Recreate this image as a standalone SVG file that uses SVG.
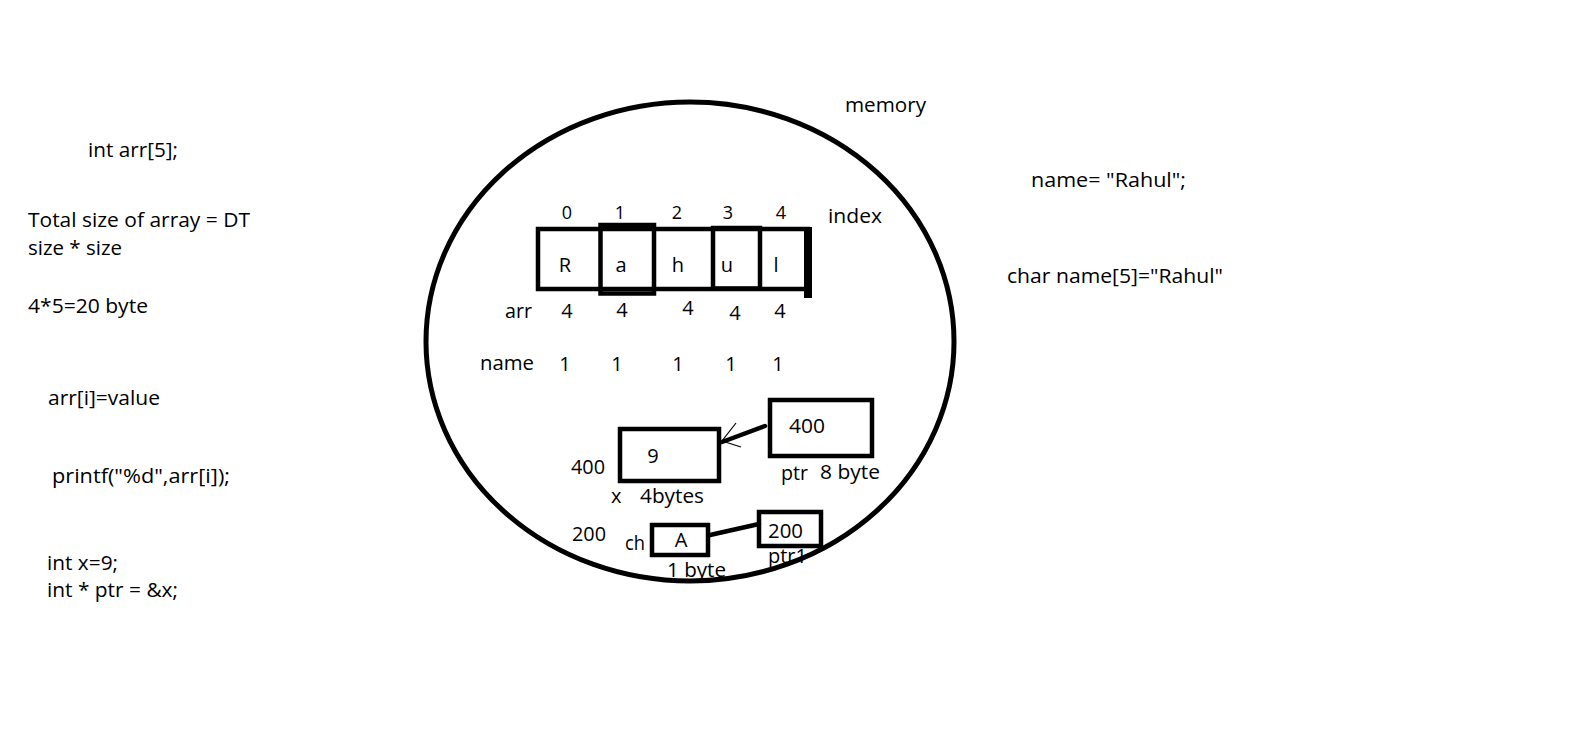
<svg xmlns="http://www.w3.org/2000/svg" width="1594" height="746" viewBox="0 0 1594 746">
<style>
text{font-family:"Open Sans",Lato,"Liberation Sans",sans-serif;font-size:20px;fill:#000}
.c{text-anchor:middle}
.s{font-size:18px}
.box{fill:none;stroke:#000;stroke-width:4.5}
.thin{fill:none;stroke:#000;stroke-width:1.2}
.con{fill:none;stroke:#000;stroke-width:4.5;stroke-linecap:round}
</style>
<rect width="1594" height="746" fill="#fff"/>
<g id="notes-left">
<text x="88" y="157" textLength="90" lengthAdjust="spacingAndGlyphs">int arr[5];</text>
<text x="28" y="227" textLength="222" lengthAdjust="spacingAndGlyphs">Total size of array = DT</text>
<text x="28" y="255" textLength="94" lengthAdjust="spacingAndGlyphs">size * size</text>
<text x="28" y="313" textLength="120" lengthAdjust="spacingAndGlyphs">4*5=20 byte</text>
<text x="48" y="405" textLength="112" lengthAdjust="spacingAndGlyphs">arr[i]=value</text>
<text x="52" y="483" textLength="178" lengthAdjust="spacingAndGlyphs">printf("%d",arr[i]);</text>
<text x="47" y="570" textLength="71" lengthAdjust="spacingAndGlyphs">int x=9;</text>
<text x="47" y="597" textLength="131" lengthAdjust="spacingAndGlyphs">int * ptr = &amp;x;</text>
</g>
<g id="notes-right">
<text x="845" y="112" textLength="81" lengthAdjust="spacingAndGlyphs">memory</text>
<text x="1031" y="187" textLength="155" lengthAdjust="spacingAndGlyphs">name= "Rahul";</text>
<text x="1007" y="283" textLength="216" lengthAdjust="spacingAndGlyphs">char name[5]="Rahul"</text>
</g>
<g id="memory">
<ellipse cx="690" cy="341.5" rx="264" ry="239.5" fill="none" stroke="#000" stroke-width="5"/>
</g>
<g id="array">
<rect class="box" x="538" y="229" width="270" height="60"/>
<rect class="box" x="600.5" y="225" width="53.5" height="68.5"/>
<rect class="box" x="713" y="228" width="47" height="60.5"/>
<rect x="804" y="227" width="8" height="71" fill="#000"/>
<text class="c" x="565" y="272">R</text>
<text class="c" x="621" y="272">a</text>
<text class="c" x="678" y="272">h</text>
<text class="c" x="727" y="272">u</text>
<text class="c" x="776" y="272">l</text>
</g>
<g id="index">
<text class="c s" x="567" y="219">0</text>
<text class="c s" x="620" y="219">1</text>
<text class="c s" x="677" y="219">2</text>
<text class="c s" x="728" y="219">3</text>
<text class="c s" x="781" y="219">4</text>
<text x="828" y="223" textLength="54" lengthAdjust="spacingAndGlyphs">index</text>
</g>
<g id="arr-sizes">
<text x="505" y="318" textLength="27" lengthAdjust="spacingAndGlyphs">arr</text>
<text class="c" x="567" y="318">4</text>
<text class="c" x="622" y="317">4</text>
<text class="c" x="688" y="315">4</text>
<text class="c" x="735" y="320">4</text>
<text class="c" x="780" y="318">4</text>
</g>
<g id="name-sizes">
<text x="480" y="370" textLength="54" lengthAdjust="spacingAndGlyphs">name</text>
<text class="c" x="565" y="371">1</text>
<text class="c" x="617" y="371">1</text>
<text class="c" x="678" y="371">1</text>
<text class="c" x="731" y="371">1</text>
<text class="c" x="778" y="371">1</text>
</g>
<g id="var-x">
<rect class="box" x="620" y="429" width="99" height="52"/>
<text class="c" x="653" y="463">9</text>
<text x="571" y="474" textLength="34" lengthAdjust="spacingAndGlyphs">400</text>
<text x="611" y="503">x</text>
<text x="640" y="503" textLength="64" lengthAdjust="spacingAndGlyphs">4bytes</text>
</g>
<g id="var-ptr">
<rect class="box" x="770" y="400" width="102" height="56"/>
<text x="789" y="433" textLength="36" lengthAdjust="spacingAndGlyphs">400</text>
<text x="781" y="480" textLength="27" lengthAdjust="spacingAndGlyphs">ptr</text>
<text x="820" y="479" textLength="60" lengthAdjust="spacingAndGlyphs">8 byte</text>
</g>
<g id="var-ch">
<rect class="box" x="652" y="525" width="56" height="30"/>
<text class="c" x="681" y="547">A</text>
<text x="625" y="550" textLength="20" lengthAdjust="spacingAndGlyphs">ch</text>
<text x="572" y="541" textLength="34" lengthAdjust="spacingAndGlyphs">200</text>
<text x="667" y="577" textLength="59" lengthAdjust="spacingAndGlyphs">1 byte</text>
</g>
<g id="var-ptr1">
<rect class="box" x="759" y="512" width="62" height="34"/>
<text x="768" y="538" textLength="35" lengthAdjust="spacingAndGlyphs">200</text>
<text x="768" y="563" textLength="39" lengthAdjust="spacingAndGlyphs">ptr1</text>
</g>
<g id="connectors">
<line class="con" x1="765" y1="426" x2="722" y2="442"/>
<polyline class="thin" points="736,423 722,441 741,447"/>
<line class="con" x1="710" y1="535" x2="759" y2="524"/>
</g>
</svg>
